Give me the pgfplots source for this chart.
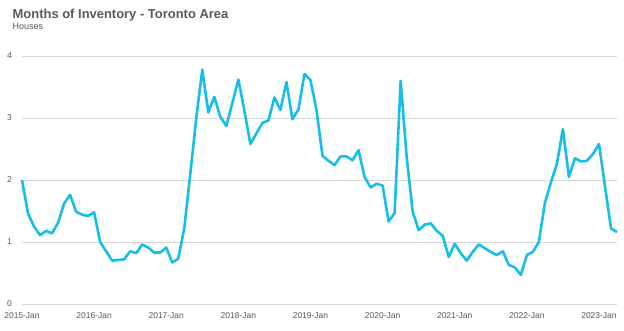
\documentclass[border=0pt]{standalone}
\usepackage{pgfplots}
\pgfplotsset{compat=1.18}
\usepackage{fontspec}
\setmainfont{Liberation Sans}
\definecolor{lineblue}{RGB}{22,190,232}
\definecolor{txtgray}{RGB}{89,89,89}
\definecolor{gridgray}{RGB}{217,217,217}
\begin{document}
\begin{tikzpicture}
\path[use as bounding box] (0,0) rectangle (624bp,331bp);
\node[anchor=base west, inner sep=0pt, text=txtgray, font=\fontsize{13}{15}\selectfont\bfseries] at (12.5bp,312bp) {Months of Inventory - Toronto Area};
\node[anchor=base west, inner sep=0pt, text=txtgray, font=\fontsize{9}{11}\selectfont] at (12.5bp,301bp) {Houses};
\begin{axis}[
  at={(22bp,27bp)}, anchor=south west,
  scale only axis, width=595bp, height=248bp,
  xmin=0, xmax=99, ymin=0, ymax=4,
  axis line style={draw=none},
  major tick length=0pt,
  ytick={0,1,2,3,4},
  xtick={0,12,24,36,48,60,72,84,96},
  xticklabels={2015-Jan,2016-Jan,2017-Jan,2018-Jan,2019-Jan,2020-Jan,2021-Jan,2022-Jan,2023-Jan},
  ymajorgrids, grid style={gridgray, line width=0.8bp},
  /pgf/number format/assume math mode=true,
  tick label style={text=txtgray, font=\fontsize{8.5}{10}\selectfont},
  xticklabel style={anchor=north, inner sep=0pt, yshift=-8bp},
  yticklabel style={anchor=east, inner sep=0pt, xshift=-10bp},
  clip=false,
]
\addplot[lineblue, line width=2.6bp, line join=round, mark=none] coordinates {
(0,2.00) (1,1.46) (2,1.25) (3,1.11) (4,1.18) (5,1.14) (6,1.31) (7,1.62) (8,1.76) (9,1.49)
(10,1.44) (11,1.42) (12,1.48) (13,1.00) (14,0.85) (15,0.70) (16,0.71) (17,0.72) (18,0.85) (19,0.82)
(20,0.96) (21,0.91) (22,0.83) (23,0.83) (24,0.91) (25,0.67) (26,0.73) (27,1.22) (28,2.10) (29,3.00)
(30,3.78) (31,3.09) (32,3.34) (33,3.02) (34,2.87) (35,3.24) (36,3.62) (37,3.12) (38,2.58) (39,2.75)
(40,2.92) (41,2.96) (42,3.33) (43,3.13) (44,3.58) (45,2.98) (46,3.14) (47,3.71) (48,3.61) (49,3.13)
(50,2.39) (51,2.31) (52,2.24) (53,2.38) (54,2.38) (55,2.32) (56,2.48) (57,2.05) (58,1.88) (59,1.94)
(60,1.91) (61,1.33) (62,1.47) (63,3.60) (64,2.38) (65,1.49) (66,1.19) (67,1.28) (68,1.30) (69,1.18)
(70,1.10) (71,0.76) (72,0.97) (73,0.82) (74,0.70) (75,0.84) (76,0.96) (77,0.90) (78,0.84) (79,0.79)
(80,0.85) (81,0.63) (82,0.59) (83,0.47) (84,0.79) (85,0.84) (86,1.00) (87,1.63) (88,1.96) (89,2.26)
(90,2.82) (91,2.05) (92,2.35) (93,2.30) (94,2.31) (95,2.42) (96,2.58) (97,1.90) (98,1.22) (99,1.16)
};
\end{axis}
\end{tikzpicture}
\end{document}
